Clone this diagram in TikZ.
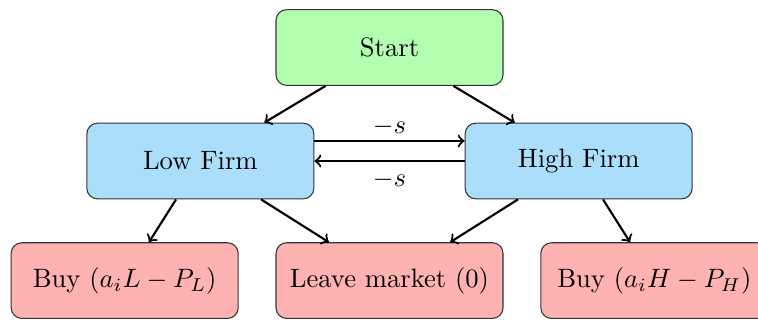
\documentclass[tikz,border=0pt]{standalone}
\usetikzlibrary{positioning}
\definecolor{startfill}{RGB}{178,255,178}
\definecolor{firmfill}{RGB}{170,222,250}
\definecolor{endfill}{RGB}{255,178,178}
\tikzset{
  box/.style={draw=black!80, rounded corners=4pt, minimum width=3cm, minimum height=1cm, align=center},
  startbox/.style={box, fill=startfill},
  firmbox/.style={box, fill=firmfill},
  endbox/.style={box, fill=endfill},
  link/.style={->, thick}
}
\begin{document}
\begin{tikzpicture}
  \useasboundingbox (-5.148,0.628) rectangle (4.87,-3.601);
  \node[startbox] (start) at (0,0) {Start};
  \node[firmbox] (low) at (-2.5,-1.5) {Low Firm};
  \node[firmbox] (high) at (2.5,-1.5) {High Firm};
  \node[endbox] (buyl) at (-3.5,-3.08) {Buy $(a_iL - P_L)$};
  \node[endbox] (leave) at (0,-3.08) {Leave market $(0)$};
  \node[endbox] (buyh) at (3.5,-3.08) {Buy $(a_iH - P_H)$};

  \draw[link] (start) -- (low);
  \draw[link] (start) -- (high);
  \draw[link] ([yshift=0.265cm]low.east) -- node[above, yshift=-1.6pt] {$-s$} ([yshift=0.265cm]high.west);
  \draw[link] (high.west) -- node[below] {$-s$} (low.east);
  \draw[link] (low) -- (buyl);
  \draw[link] (low) -- (leave);
  \draw[link] (high) -- (leave);
  \draw[link] (high) -- (buyh);
\end{tikzpicture}
\end{document}
